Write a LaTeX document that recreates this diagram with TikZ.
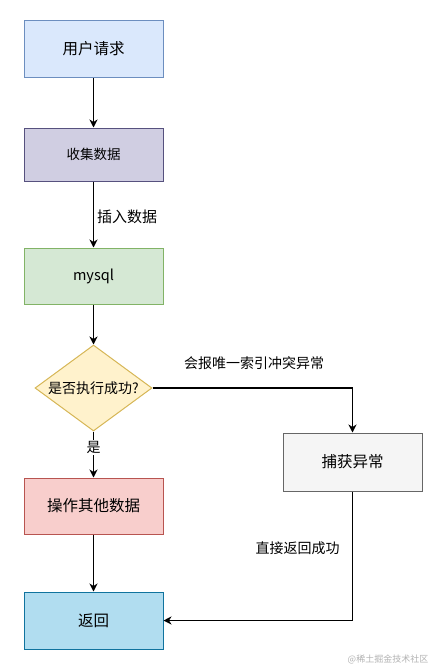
\documentclass[tikz,border=0pt]{standalone}
\usepackage{fontspec}
\setmainfont{Noto Sans CJK SC}
\usetikzlibrary{shapes.geometric,arrows.meta}
\definecolor{bluef}{HTML}{DAE8FC}\definecolor{blued}{HTML}{6C8EBF}
\definecolor{purf}{HTML}{D0CEE2}\definecolor{purd}{HTML}{56517E}
\definecolor{grnf}{HTML}{D5E8D4}\definecolor{grnd}{HTML}{82B366}
\definecolor{yelf}{HTML}{FFF2CC}\definecolor{yeld}{HTML}{D6B656}
\definecolor{redf}{HTML}{F8CECC}\definecolor{redd}{HTML}{B85450}
\definecolor{gryf}{HTML}{F5F5F5}\definecolor{gryd}{HTML}{666666}
\definecolor{cynf}{HTML}{B1DDF0}\definecolor{cynd}{HTML}{10739E}
\tikzset{
  box/.style={rectangle, inner sep=0pt, minimum width=139pt, minimum height=57pt, line width=1pt, font=\fontsize{15.5}{18}\selectfont},
  conn/.style={line width=1.3pt, -{Stealth[length=8pt,width=8pt,inset=2.5pt]}},
  lbl/.style={inner sep=1pt, font=\fontsize{14}{16}\selectfont},
}
\begin{document}
\begin{tikzpicture}[x=1pt,y=-1pt]
\useasboundingbox (0,0) rectangle (432,667);
\node[box, fill=bluef, draw=blued] (b1) at (93.5,49) {用户请求};
\node[box, fill=purf, draw=purd, minimum height=53pt, font=\fontsize{13.5}{16}\selectfont] (b2) at (93.5,154.5) {收集数据};
\node[box, fill=grnf, draw=grnd, minimum height=56pt, font=\fontsize{14.5}{17}\selectfont] (b3) at (93.5,276) {mysql};
\node[diamond, aspect=1.36, inner sep=0pt, minimum width=117pt, minimum height=86pt, fill=yelf, draw=yeld, line width=1pt, font=\fontsize{14}{16}\selectfont] (d) at (93.5,388) {是否执行成功?};
\node[box, fill=redf, draw=redd, minimum height=56pt] (b4) at (93.5,506) {操作其他数据};
\node[box, fill=cynf, draw=cynd] (b5) at (93.5,620.5) {返回};
\node[box, fill=gryf, draw=gryd, minimum height=58pt] (c) at (352.5,462) {捕获异常};
\draw[conn] (b1) -- (b2);
\draw[conn] (b2) -- (b3);
\node[lbl, anchor=west, font=\fontsize{15}{17}\selectfont] (l1) at (96,217) {插入数据};
\draw[conn] (b3) -- (d);
\draw[conn] (d) -- node[lbl, fill=white, pos=0.35] (l2) {是} (b4);
\draw[conn] (b4) -- (b5);
\draw[conn] (d.east) -| (c.north);
\node[lbl] (l3) at (254,363) {会报唯一索引冲突异常};
\draw[conn] (c.south) |- (b5.east);
\node[lbl] (l4) at (297.5,548) {直接返回成功};
\node[inner sep=0pt, text=black!30, font=\fontsize{9}{11}\selectfont] (wm) at (388,659) {@稀土掘金技术社区};
\end{tikzpicture}
\end{document}
